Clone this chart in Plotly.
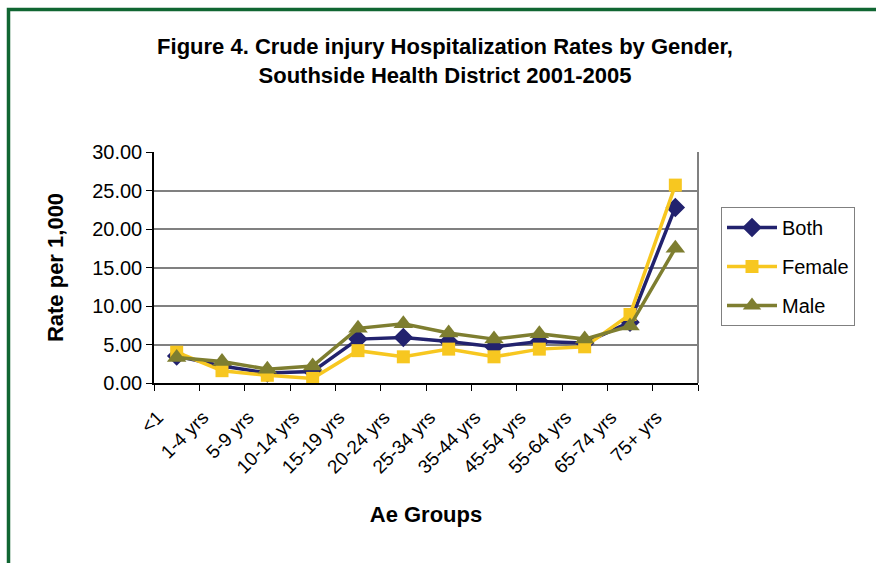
import plotly.graph_objects as go

categories = ["<1", "1-4 yrs", "5-9 yrs", "10-14 yrs", "15-19 yrs", "20-24 yrs",
              "25-34 yrs", "35-44 yrs", "45-54 yrs", "55-64 yrs", "65-74 yrs", "75+ yrs"]
both = [3.5, 2.2, 1.3, 1.5, 5.7, 5.9, 5.4, 4.7, 5.4, 5.2, 7.9, 22.8]
female = [4.0, 1.6, 1.0, 0.6, 4.2, 3.4, 4.4, 3.4, 4.4, 4.7, 8.9, 25.7]
male = [3.3, 2.8, 1.8, 2.2, 7.1, 7.7, 6.5, 5.7, 6.4, 5.7, 7.4, 17.5]
y_ticks = [0, 5, 10, 15, 20, 25, 30]
y_ticklabels = ["0.00", "5.00", "10.00", "15.00", "20.00", "25.00", "30.00"]

C_BOTH = "#22226e"
C_FEMALE = "#f7c720"
C_MALE = "#7e7e30"
FONT = "Liberation Sans, Arial, sans-serif"

fig = go.Figure()
fig.add_trace(go.Scatter(x=categories, y=both, name="Both", mode="lines+markers",
                         legendgroup="a",
                         line=dict(color=C_BOTH, width=3.5),
                         marker=dict(symbol="diamond", size=15, color=C_BOTH)))
fig.add_trace(go.Scatter(x=categories, y=female, name="Female", mode="lines+markers",
                         legendgroup="b",
                         line=dict(color=C_FEMALE, width=3.5),
                         marker=dict(symbol="square", size=13, color=C_FEMALE)))
fig.add_trace(go.Scatter(x=categories, y=male, name="Male", mode="lines+markers",
                         legendgroup="c",
                         line=dict(color=C_MALE, width=3.5),
                         marker=dict(symbol="triangle-up", size=17, color=C_MALE)))

L, R, T, B = 154, 698, 152, 383
W, H = 876, 563
pw, ph = R - L, B - T

def px(x):
    return (x - L) / pw

def py(y):
    return (B - y) / ph

fig.update_layout(
    width=W, height=H,
    margin=dict(l=L, r=W - R, t=T, b=H - B),
    paper_bgcolor="white", plot_bgcolor="white",
    font=dict(family=FONT, size=20, color="black"),
    title=dict(text="<b>Figure 4. Crude injury Hospitalization Rates by Gender,<br>Southside Health District 2001-2005</b>",
               x=445 / W, xanchor="center", xref="container",
               y=1 - 54 / H, yanchor="top", yref="container",
               font=dict(family=FONT, size=22, color="black")),
    showlegend=True,
    legend=dict(x=px(721), xanchor="left", y=py(207), yanchor="top",
                bordercolor="#808080", borderwidth=1, bgcolor="white",
                font=dict(family=FONT, size=20), tracegroupgap=10,
                itemwidth=50),
    xaxis=dict(type="category", range=[-0.5, 11.5], tickangle=-45, tickson="boundaries",
               ticks="outside", ticklen=6, tickcolor="black",
               ticklabelshift=-19, ticklabelstandoff=14,
               showline=True, linecolor="black", linewidth=1.5,
               showgrid=False, mirror=False,
               tickfont=dict(family=FONT, size=19),
               title=dict(text="<b>Ae Groups</b>", standoff=30,
                          font=dict(family=FONT, size=22))),
    yaxis=dict(range=[0, 30], tickvals=y_ticks, ticktext=y_ticklabels,
               ticks="outside", ticklen=6, tickcolor="black",
               showline=True, linecolor="black", linewidth=1.5,
               showgrid=True, gridcolor="#808080", gridwidth=1.5,
               zeroline=False,
               tickfont=dict(family=FONT, size=20),
               title=dict(text="<b>Rate per 1,000</b>", standoff=22,
                          font=dict(family=FONT, size=22))),
)

# grey right border of plot area
fig.add_shape(type="line", xref="paper", yref="paper", x0=1, x1=1, y0=0, y1=1,
              line=dict(color="#808080", width=2))
# green frame around the figure
fig.add_shape(type="rect", xref="paper", yref="paper",
              x0=px(8.5), x1=px(920), y0=py(620), y1=py(9.5),
              line=dict(color="#106632", width=3.5), fillcolor="rgba(0,0,0,0)",
              layer="above")

fig.write_html("out.html", post_script="document.body.style.margin='0';",
               config={"responsive": False, "displayModeBar": False})
